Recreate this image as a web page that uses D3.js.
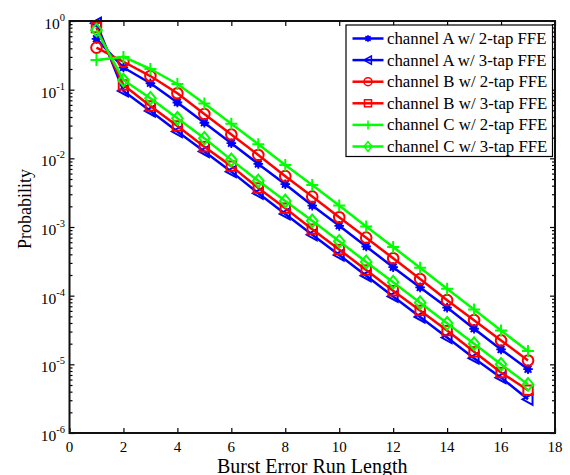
<!DOCTYPE html>
<html>
<head>
<meta charset="utf-8">
<script src="https://cdn.jsdelivr.net/npm/d3@7"></script>
<style>
  html, body { margin: 0; padding: 0; background: #fff; }
  svg { display: block; }
  text { font-family: "Liberation Serif", "Times New Roman", serif; fill: #000; }
</style>
</head>
<body>
<svg id="chart" width="570" height="475"></svg>
<script>
// Burst error run lengths (x) and probabilities per channel / equalizer setting
const runLength = [1, 2, 3, 4, 5, 6, 7, 8, 9, 10, 11, 12, 13, 14, 15, 16, 17];

const chanA2tap = [0.55, 0.21, 0.124, 0.065, 0.033, 0.0166, 0.0083, 0.0042, 0.00205, 0.00104, 0.00052, 0.00026, 0.000132, 0.000067, 0.000033, 0.0000165, 0.0000085];
const chanA3tap = [0.93, 0.096, 0.049, 0.0245, 0.0126, 0.0064, 0.0031, 0.00155, 0.00077, 0.00039, 0.000195, 0.0000975, 0.000049, 0.0000245, 0.0000123, 0.0000064, 0.0000031];
const chanB2tap = [0.41, 0.255, 0.158, 0.0887, 0.0443, 0.0222, 0.0112, 0.0055, 0.00277, 0.00139, 0.0007, 0.00035, 0.000175, 0.000086, 0.000044, 0.0000223, 0.0000114];
const chanB3tap = [0.8, 0.117, 0.058, 0.0296, 0.0148, 0.0077, 0.0037, 0.00188, 0.00093, 0.00047, 0.000236, 0.000118, 0.000061, 0.000031, 0.0000152, 0.0000076, 0.0000042];
const chanC2tap = [0.27, 0.3, 0.2, 0.121, 0.063, 0.032, 0.0161, 0.008, 0.0041, 0.00205, 0.00102, 0.00051, 0.000255, 0.000126, 0.000063, 0.000031, 0.0000156];
const chanC3tap = [0.74, 0.138, 0.075, 0.0383, 0.0196, 0.0095, 0.0047, 0.0024, 0.00123, 0.00062, 0.00031, 0.000157, 0.000079, 0.0000396, 0.00002, 0.00001, 0.0000051];

const seriesNames = [
  "channel A w/ 2-tap FFE", "channel A w/ 3-tap FFE",
  "channel B w/ 2-tap FFE", "channel B w/ 3-tap FFE",
  "channel C w/ 2-tap FFE", "channel C w/ 3-tap FFE"
];
const seriesColors = ["#0000ff", "#0000ff", "#ff0000", "#ff0000", "#00ff00", "#00ff00"];
const seriesMarkers = ["asterisk", "triangleLeft", "circle", "square", "plus", "diamond"];
const seriesValues = [chanA2tap, chanA3tap, chanB2tap, chanB3tap, chanC2tap, chanC3tap];

const xTicks = [0, 2, 4, 6, 8, 10, 12, 14, 16, 18];
const yExponents = [0, -1, -2, -3, -4, -5, -6];

const xLabel = "Burst Error Run Length";
const yLabel = "Probability";

// ---- layout ----
const plot = { left: 69.5, right: 555, top: 21, bottom: 433 };

const svg = d3.select("#chart");

const x = d3.scaleLinear().domain([0, 18]).range([plot.left, plot.right]);
const y = d3.scaleLog().domain([1e-6, 1]).range([plot.bottom, plot.top]);

// ---- marker shapes ----
function drawMarker(g, type, color) {
  const s = 4.8;
  if (type === "asterisk") {
    g.append("circle").attr("r", 3.4).attr("fill", color);
    const p = d3.path();
    p.moveTo(-s, 0); p.lineTo(s, 0);
    p.moveTo(0, -s); p.lineTo(0, s);
    p.moveTo(-3.4, -3.4); p.lineTo(3.4, 3.4);
    p.moveTo(-3.4, 3.4); p.lineTo(3.4, -3.4);
    g.append("path").attr("d", p.toString()).attr("stroke", color).attr("stroke-width", 1.8).attr("fill", "none");
  } else if (type === "triangleLeft") {
    g.append("path").attr("d", "M-5.5,0L4.5,-5.5L4.5,5.5Z")
      .attr("stroke", color).attr("stroke-width", 2).attr("fill", "none");
  } else if (type === "circle") {
    g.append("circle").attr("r", 5.3).attr("stroke", color).attr("stroke-width", 2).attr("fill", "none");
  } else if (type === "square") {
    g.append("rect").attr("x", -4.7).attr("y", -4.7).attr("width", 9.4).attr("height", 9.4)
      .attr("stroke", color).attr("stroke-width", 2).attr("fill", "none");
  } else if (type === "plus") {
    g.append("path").attr("d", "M-6,0L6,0M0,-6L0,6")
      .attr("stroke", color).attr("stroke-width", 2).attr("fill", "none");
  } else if (type === "diamond") {
    g.append("path").attr("d", "M0,-6.3L5.3,0L0,6.3L-5.3,0Z")
      .attr("stroke", color).attr("stroke-width", 2).attr("fill", "none");
  }
}

// ---- series ----
const line = d3.line().x(d => x(d[0])).y(d => y(d[1]));
const plotG = svg.append("g");

seriesValues.forEach((vals, i) => {
  const pts = runLength.map((r, j) => [r, vals[j]]);
  plotG.append("path")
    .attr("d", line(pts))
    .attr("fill", "none")
    .attr("stroke", seriesColors[i])
    .attr("stroke-width", 2.5)
    .attr("stroke-linejoin", "round");
  pts.forEach(p => {
    const m = plotG.append("g").attr("transform", `translate(${x(p[0])},${y(p[1])})`);
    drawMarker(m, seriesMarkers[i], seriesColors[i]);
  });
});

// ---- axes box and ticks (ticks point inward on all four sides) ----
const axisG = svg.append("g");
const bottomAxis = d3.axisBottom(x).tickValues(xTicks).tickSize(-5).tickFormat("");
const topAxis = d3.axisTop(x).tickValues(xTicks).tickSize(-5).tickFormat("");
axisG.append("g").attr("transform", `translate(0,${plot.bottom})`).call(bottomAxis);
axisG.append("g").attr("transform", `translate(0,${plot.top})`).call(topAxis);

const majorY = yExponents.map(e => Math.pow(10, e));
const minorY = [];
for (let e = -6; e < 0; e++) {
  for (let k = 2; k <= 9; k++) minorY.push(k * Math.pow(10, e));
}
const leftMajor = d3.axisLeft(y).tickValues(majorY).tickSize(-5).tickFormat("");
const leftMinor = d3.axisLeft(y).tickValues(minorY).tickSize(-3).tickFormat("");
const rightMajor = d3.axisRight(y).tickValues(majorY).tickSize(-5).tickFormat("");
const rightMinor = d3.axisRight(y).tickValues(minorY).tickSize(-3).tickFormat("");
axisG.append("g").attr("transform", `translate(${plot.left},0)`).call(leftMajor);
axisG.append("g").attr("transform", `translate(${plot.left},0)`).call(leftMinor);
axisG.append("g").attr("transform", `translate(${plot.right},0)`).call(rightMajor);
axisG.append("g").attr("transform", `translate(${plot.right},0)`).call(rightMinor);

axisG.selectAll(".domain").remove();
axisG.selectAll(".tick line").attr("stroke", "#000").attr("stroke-width", 1.2);

svg.append("rect")
  .attr("x", plot.left).attr("y", plot.top)
  .attr("width", plot.right - plot.left).attr("height", plot.bottom - plot.top)
  .attr("fill", "none").attr("stroke", "#111").attr("stroke-width", 2);

// ---- tick labels ----
svg.append("g").selectAll("text")
  .data(xTicks).join("text")
  .attr("x", d => x(d)).attr("y", plot.bottom + 18.5)
  .attr("text-anchor", "middle")
  .attr("font-size", 15)
  .text(d => d);

const yLab = svg.append("g").selectAll("text")
  .data(yExponents).join("text")
  .attr("x", 65).attr("y", d => y(Math.pow(10, d)) + 8)
  .attr("text-anchor", "end")
  .attr("font-size", 15.5);
yLab.append("tspan").text("10");
yLab.append("tspan").attr("dy", -8).attr("font-size", 10.5).text(d => d);

// ---- axis titles ----
svg.append("text")
  .attr("x", (plot.left + plot.right) / 2).attr("y", 473)
  .attr("text-anchor", "middle").attr("font-size", 20)
  .text(xLabel);

svg.append("text")
  .attr("transform", "translate(31,209) rotate(-90)")
  .attr("text-anchor", "middle").attr("font-size", 18)
  .text(yLabel);

// ---- legend ----
const legend = svg.append("g");
legend.append("rect")
  .attr("x", 346).attr("y", 25).attr("width", 206.5).attr("height", 131.5)
  .attr("fill", "#fff").attr("stroke", "#000").attr("stroke-width", 1.2);

seriesNames.forEach((name, i) => {
  const ry = 38.5 + i * 21.6;
  const row = legend.append("g");
  row.append("line")
    .attr("x1", 352.5).attr("x2", 383.5).attr("y1", ry).attr("y2", ry)
    .attr("stroke", seriesColors[i]).attr("stroke-width", 2.5);
  const m = row.append("g").attr("transform", `translate(368,${ry})`);
  const mg = m.append("g").attr("transform", "scale(0.75)");
  drawMarker(mg, seriesMarkers[i], seriesColors[i]);
  row.append("text")
    .attr("x", 387).attr("y", ry + 5.5)
    .attr("font-size", 16.8)
    .text(name);
});
</script>
</body>
</html>
